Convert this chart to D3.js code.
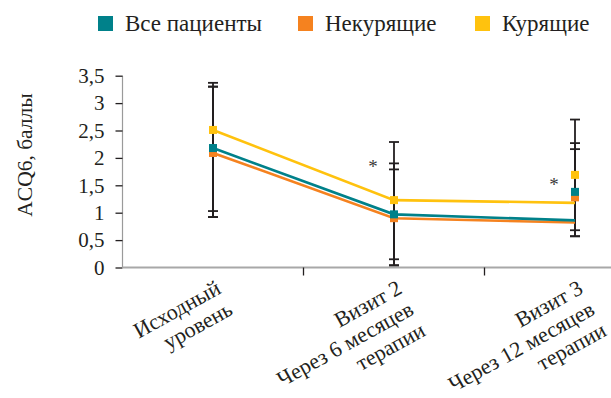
<!DOCTYPE html>
<html><head><meta charset="utf-8">
<script src="https://cdn.jsdelivr.net/npm/d3@7/dist/d3.min.js"></script>
<style>
html,body{margin:0;padding:0;background:#fff;}
svg text{font-family:"Liberation Serif",serif;fill:#231f20;}
</style></head>
<body><svg id="c" width="611" height="398"></svg>
<script>
const categories = [["Исходный","уровень"],["Визит 2","Через 6 месяцев","терапии"],["Визит 3","Через 12 месяцев","терапии"]];
const seriesNames = ["Все пациенты","Некурящие","Курящие"];
const seriesColors = ["#00818a","#f5821f","#ffc20e"];
// line values
const lineAll = [2.18, 0.97, 0.86];
const lineNon = [2.09, 0.90, 0.82];
const lineSmk = [2.51, 1.23, 1.18];
// marker values
const markAll = [2.18, 0.97, 1.38];
const markNon = [2.09, 0.90, 1.28];
const markSmk = [2.51, 1.23, 1.69];
// error bar bounds
const errHighAll = [3.30, 1.90, 2.27];
const errLowAll  = [1.03, 0.15, 0.68];
const errHighNon = [3.30, 1.79, 2.16];
const errLowNon  = [0.92, 0.04, 0.57];
const errHighSmk = [3.37, 2.29, 2.70];
const errLowSmk  = [0.92, 0.04, 0.57];
// significance markers
const starValues = [null, 1.87, 1.55];
const yTicks = [0, 0.5, 1, 1.5, 2, 2.5, 3, 3.5];
const yTickLabels = ["0","0,5","1","1,5","2","2,5","3","3,5"];

const series = [
  {name:seriesNames[1], color:seriesColors[1], line:lineNon, mark:markNon, hi:errHighNon, lo:errLowNon},
  {name:seriesNames[0], color:seriesColors[0], line:lineAll, mark:markAll, hi:errHighAll, lo:errLowAll},
  {name:seriesNames[2], color:seriesColors[2], line:lineSmk, mark:markSmk, hi:errHighSmk, lo:errLowSmk}
];

const svg = d3.select("#c");
const left = 122.5, bandW = 181, baseY = 267.5, topY = 75.7;
const x = d3.scaleBand().domain(d3.range(categories.length)).range([left, left + bandW*categories.length]);
const y = d3.scaleLinear().domain([0, 3.5]).range([baseY, topY]);
const cx = i => x(i) + x.bandwidth()/2;

// y axis
const yAxis = d3.axisLeft(y).tickValues(yTicks).tickFormat((d,i)=>yTickLabels[i]).tickSize(7).tickPadding(11);
const gy = svg.append("g").attr("transform",`translate(${left},0)`).call(yAxis);
gy.attr("font-family","Liberation Serif").attr("font-size",21);
gy.select(".domain").attr("stroke","#9a9a9a").attr("stroke-width",1.2).attr("d",`M0,${topY}V${baseY}`);
gy.selectAll(".tick line").attr("stroke","#231f20").attr("stroke-width",1.3);
gy.selectAll(".tick text").attr("style","font-family:'Liberation Serif',serif;font-size:21px").attr("fill","#231f20");

// x baseline
svg.append("line").attr("x1",left).attr("x2",611).attr("y1",baseY).attr("y2",baseY).attr("stroke","#a8a8a8").attr("stroke-width",2);
// category boundary ticks
svg.selectAll(".xt").data(d3.range(1,categories.length)).join("line")
  .attr("x1",d=>x(d)).attr("x2",d=>x(d)).attr("y1",baseY).attr("y2",baseY+8).attr("stroke","#231f20").attr("stroke-width",1.3);

// x labels
const ang = -29;
categories.forEach((lines,i)=>{
  const t = svg.append("text").attr("text-anchor","end").style("font-size","22px")
    .attr("transform",`translate(${cx(i)+1},${baseY+10}) rotate(${ang})`);
  lines.forEach((ln,j)=>{
    t.append("tspan").attr("x",0).attr("dy", j===0 ? "0.78em" : "1.1em").text(ln);
  });
});

// y title
svg.append("text").style("font-size","21.5px").attr("text-anchor","middle")
  .attr("transform",`translate(32,${155}) rotate(-90)`).text("ACQ6, баллы");

// error bars
const capW = 8;
series.forEach(s=>{
  const g = svg.append("g");
  d3.range(categories.length).forEach(i=>{
    g.append("line").attr("x1",cx(i)).attr("x2",cx(i)).attr("y1",y(s.hi[i])).attr("y2",y(s.lo[i])).attr("stroke","#231f20").attr("stroke-width",1.8);
    [s.hi[i], s.lo[i]].forEach(v=>{
      g.append("line").attr("x1",cx(i)-capW/2-1).attr("x2",cx(i)+capW/2+1).attr("y1",y(v)).attr("y2",y(v)).attr("stroke","#231f20").attr("stroke-width",1.8);
    });
  });
});

// lines
const lineGen = d3.line().x((d,i)=>cx(i)).y(d=>y(d));
series.forEach(s=>{
  svg.append("path").attr("d",lineGen(s.line)).attr("fill","none").attr("stroke",s.color).attr("stroke-width",2.6);
});
// markers
const ms = 8;
series.forEach(s=>{
  svg.selectAll(null).data(s.mark).join("rect")
    .attr("x",(d,i)=>cx(i)-ms/2).attr("y",d=>y(d)-ms/2).attr("width",ms).attr("height",ms).attr("fill",s.color);
});

// stars
svg.selectAll(".star").data(starValues.map((v,i)=>({v,i})).filter(d=>d.v!==null)).join("text")
  .attr("x",d=>cx(d.i)-21).attr("y",d=>y(d.v)+8).attr("text-anchor","middle").style("font-size","19px")
  .style("fill","#3a3a3a").text("*");

// legend
const legendOrder = [0,1,2];
const legX = [98, 298, 475];
legendOrder.forEach((k,j)=>{
  svg.append("rect").attr("x",legX[j]).attr("y",16).attr("width",15).attr("height",15).attr("fill",seriesColors[k]);
  svg.append("text").attr("x",legX[j]+27).attr("y",31).style("font-size","23px").text(seriesNames[k]);
});
</script></body></html>
